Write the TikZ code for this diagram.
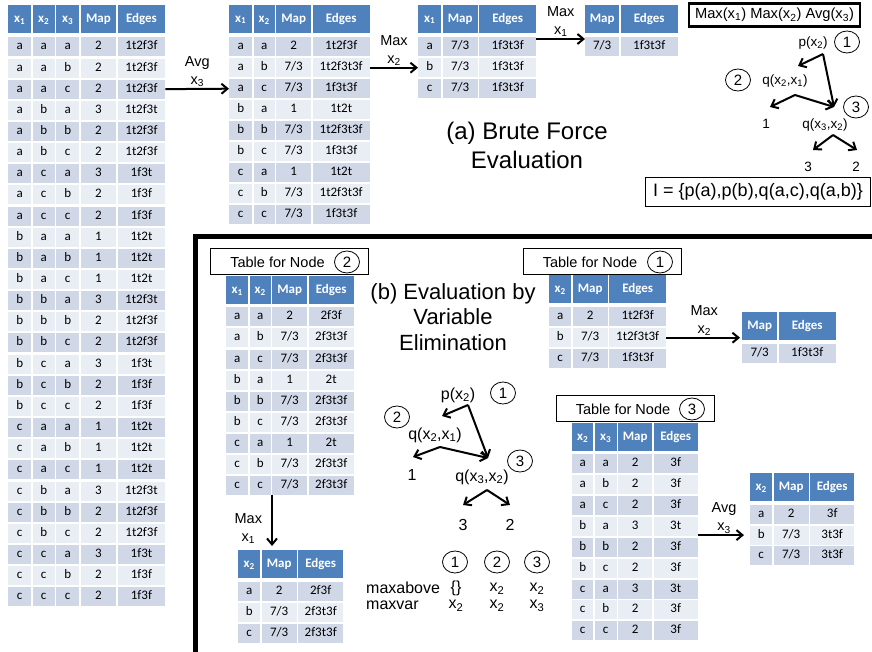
\documentclass[tikz,border=0pt]{standalone}
\usepackage{fontspec}
\setmainfont{Liberation Sans}
\newfontfamily\tabfont{Carlito}
\usetikzlibrary{matrix,shapes.geometric,arrows.meta}
\definecolor{hdrblue}{HTML}{4F81BD}
\definecolor{rowdark}{HTML}{D0D8E8}
\definecolor{rowlight}{HTML}{E9EDF4}
\newcommand\xv[1]{x\textsubscript{#1}}
\tikzstyle{every edge} = [draw,line width=2pt,-{Straight Barb[length=6pt,width=10pt]}]
\tikzstyle{cell} = [fill=rowlight,font=\tabfont\fontsize{13}{15}\selectfont,inner sep=0pt,text height=9pt,text depth=3pt,minimum height=19pt]
\tikzstyle{hdr} = [fill=hdrblue,text=white,font=\tabfont\bfseries\fontsize{13}{15}\selectfont,minimum height=28pt]
\tikzstyle{tbl} = [matrix of nodes,anchor=north west,inner sep=0pt,column sep=1.5pt,row sep=2pt,nodes={cell},every even row/.style={nodes={fill=rowdark}},row 1/.style={nodes={hdr}}]
\tikzstyle{wcol} = [nodes={minimum width=#1}]
\tikzstyle{lbl} = [font=\fontsize{14.5}{18}\selectfont,align=center,inner sep=1pt]
\tikzstyle{slbl} = [font=\fontsize{13.5}{16}\selectfont,inner sep=1pt]
\tikzstyle{tlbl} = [font=\fontsize{16}{18}\selectfont,inner sep=1pt]
\tikzstyle{num} = [draw,ellipse,minimum width=25pt,minimum height=22pt,inner sep=0pt,line width=0.8pt,font=\fontsize{15}{18}\selectfont]
\tikzstyle{tbox} = [draw,line width=0.9pt,minimum width=158pt,minimum height=26pt]

\begin{document}
\begin{tikzpicture}[x=1pt,y=-1pt]

\path[fill=white] (0,0) rectangle (872,652);
\useasboundingbox (0,0) rectangle (872,652);

% (a) brute force
\matrix (full) [tbl,row sep=2.15pt,column 1/.style={wcol=23pt},column 2/.style={wcol=22pt},column 3/.style={wcol=23pt},column 4/.style={wcol=35.5pt},column 5/.style={wcol=47.5pt}] at (8,5) {
\xv1 & \xv2 & \xv3 & Map & Edges \\[2pt]
a & a & a & 2 & 1t2f3f \\
a & a & b & 2 & 1t2f3f \\
a & a & c & 2 & 1t2f3f \\
a & b & a & 3 & 1t2f3t \\
a & b & b & 2 & 1t2f3f \\
a & b & c & 2 & 1t2f3f \\
a & c & a & 3 & 1f3t \\
a & c & b & 2 & 1f3f \\
a & c & c & 2 & 1f3f \\
b & a & a & 1 & 1t2t \\
b & a & b & 1 & 1t2t \\
b & a & c & 1 & 1t2t \\
b & b & a & 3 & 1t2f3t \\
b & b & b & 2 & 1t2f3f \\
b & b & c & 2 & 1t2f3f \\
b & c & a & 3 & 1f3t \\
b & c & b & 2 & 1f3f \\
b & c & c & 2 & 1f3f \\
c & a & a & 1 & 1t2t \\
c & a & b & 1 & 1t2t \\
c & a & c & 1 & 1t2t \\
c & b & a & 3 & 1t2f3t \\
c & b & b & 2 & 1t2f3f \\
c & b & c & 2 & 1t2f3f \\
c & c & a & 3 & 1f3t \\
c & c & b & 2 & 1f3f \\
c & c & c & 2 & 1f3f \\
};

\matrix (avgx3) [tbl,column 1/.style={wcol=23pt},column 2/.style={wcol=21pt},column 3/.style={wcol=35pt},column 4/.style={wcol=57pt}] at (229,5) {
\xv1 & \xv2 & Map & Edges \\[2pt]
a & a & 2 & 1t2f3f \\
a & b & 7/3 & 1t2f3t3f \\
a & c & 7/3 & 1f3t3f \\
b & a & 1 & 1t2t \\
b & b & 7/3 & 1t2f3t3f \\
b & c & 7/3 & 1f3t3f \\
c & a & 1 & 1t2t \\
c & b & 7/3 & 1t2f3t3f \\
c & c & 7/3 & 1f3t3f \\
};

\matrix (maxx2) [tbl,column 1/.style={wcol=23pt},column 2/.style={wcol=35pt},column 3/.style={wcol=57pt}] at (418,5) {
\xv1 & Map & Edges \\[2pt]
a & 7/3 & 1f3t3f \\
b & 7/3 & 1f3t3f \\
c & 7/3 & 1f3t3f \\
};

\matrix (maxx1) [tbl,column 1/.style={wcol=34pt},column 2/.style={wcol=57pt}] at (585,5) {
Map & Edges \\[2pt]
7/3 & 1f3t3f \\
};

\draw (full-4-5.east) edge node[lbl,above] {Avg\\\xv3} (avgx3-4-1.west);
\draw (avgx3-3-4.east) edge node[lbl,above] {Max\\\xv2} (maxx2-3-1.west);
\draw ([yshift=-2pt]maxx2-2-3.north east) edge node[lbl,above] {Max\\\xv1} ([yshift=-2pt]maxx1-2-1.north west);

\node[draw,line width=2.5pt,minimum width=171pt,minimum height=23pt,font=\fontsize{14.7}{17}\selectfont] (goal) at (774.5,15) {Max(\xv1) Max(\xv2) Avg(\xv3)};

% tree for (a)
\node[slbl] (pa) at (813,43) {p(\xv2)};
\node[num] (na1) at (847,42) {1};
\node[num] (na2) at (738,80) {2};
\node[slbl] (qa21) at (785,81) {q(\xv2,\xv1)};
\node[num] (na3) at (856,107) {3};
\node[slbl] (la1) at (766,124) {1};
\node[slbl] (qa32) at (825,125) {q(\xv3,\xv2)};
\node[slbl] (la3) at (808,167) {3};
\node[slbl] (la2) at (856,167) {2};
\coordinate (ta1) at (823,54);
\coordinate (ta2) at (798,66);
\coordinate (ta3) at (834,107);
\coordinate (ta4) at (795,95);
\coordinate (ta5) at (770,107);
\coordinate (ta6) at (833,135);
\coordinate (ta7) at (813,150);
\coordinate (ta8) at (857,150);
\draw (ta1) edge (ta2) edge (ta3);
\draw (ta4) edge (ta5) edge (ta3);
\draw (ta6) edge (ta7) edge (ta8);

\node[draw,line width=0.9pt,minimum width=225pt,minimum height=29pt,font=\fontsize{18}{20}\selectfont] (inst) at (758,192) {I = \{p(a),p(b),q(a,c),q(a,b)\}};

\node[align=center,font=\fontsize{24}{29}\selectfont] (ttla) at (527,145) {(a) Brute Force\\Evaluation};

% (b) variable elimination
\draw[line width=5pt] (195,652) -- (195,237) -- (872,237);

\node[align=center,font=\fontsize{22}{25.5}\selectfont] (ttlb) at (453,317) {(b) Evaluation by\\Variable\\Elimination};

\node[tbox] (box2) at (289,261) {};
\node[lbl] (txt2) at (277.5,262) {Table for Node};
\node[num] (nb2) at (347,262) {2};

\matrix (node2tab) [tbl,row sep=2.1pt,column 1/.style={wcol=22pt},column 2/.style={wcol=21pt},column 3/.style={wcol=35pt},column 4/.style={wcol=45pt}] at (226,276) {
\xv1 & \xv2 & Map & Edges \\[1pt]
a & a & 2 & 2f3f \\
a & b & 7/3 & 2f3t3f \\
a & c & 7/3 & 2f3t3f \\
b & a & 1 & 2t \\
b & b & 7/3 & 2f3t3f \\
b & c & 7/3 & 2f3t3f \\
c & a & 1 & 2t \\
c & b & 7/3 & 2f3t3f \\
c & c & 7/3 & 2f3t3f \\
};

\matrix (node2max) [tbl,column 1/.style={wcol=22pt},column 2/.style={wcol=35pt},column 3/.style={wcol=45pt}] at (238,550) {
\xv2 & Map & Edges \\[2pt]
a & 2 & 2f3f \\
b & 7/3 & 2f3t3f \\
c & 7/3 & 2f3t3f \\
};

\draw (node2tab-10-3.south west) edge[shorten >=4pt] node[lbl,left=8pt,pos=0.6] {Max\\\xv1} (node2tab-10-3.south west |- node2max.north);

\node[tbox] (box1) at (602.5,261) {};
\node[lbl] (txt1) at (590,262) {Table for Node};
\node[num] (nb1) at (660,262) {1};

\matrix (node1tab) [tbl,column 1/.style={wcol=22pt},column 2/.style={wcol=35pt},column 3/.style={wcol=57pt}] at (549,275) {
\xv2 & Map & Edges \\[2pt]
a & 2 & 1t2f3f \\
b & 7/3 & 1t2f3t3f \\
c & 7/3 & 1f3t3f \\
};

\matrix (node1max) [tbl,column 1/.style={wcol=35pt},column 2/.style={wcol=57pt}] at (742,312) {
Map & Edges \\[2pt]
7/3 & 1f3t3f \\
};

\draw (node1tab-3-3.east) edge[shorten >=2pt] node[lbl,above] {Max\\\xv2} (node1tab-3-3.east -| node1max.west);

\node[tbox] (box3) at (635.5,408.5) {};
\node[lbl] (txt3) at (623,409) {Table for Node};
\node[num] (nb3) at (692,409) {3};

\matrix (node3tab) [tbl,row sep=1.9pt,column 1/.style={wcol=21pt},column 2/.style={wcol=22pt},column 3/.style={wcol=34pt},column 4/.style={wcol=44pt}] at (572,423) {
\xv2 & \xv3 & Map & Edges \\[1pt]
a & a & 2 & 3f \\
a & b & 2 & 3f \\
a & c & 2 & 3f \\
b & a & 3 & 3t \\
b & b & 2 & 3f \\
b & c & 2 & 3f \\
c & a & 3 & 3t \\
c & b & 2 & 3f \\
c & c & 2 & 3f \\
};

\matrix (node3avg) [tbl,row sep=1.7pt,column 1/.style={wcol=22pt},column 2/.style={wcol=35pt},column 3/.style={wcol=44pt}] at (750,473) {
\xv2 & Map & Edges \\[2pt]
a & 2 & 3f \\
b & 7/3 & 3t3f \\
c & 7/3 & 3t3f \\
};

\draw (node3tab.east |- node3avg-3-1) edge[shorten >=6pt] node[lbl,above] {Avg\\\xv3} (node3avg-3-1.west);

% tree for (b)
\node[tlbl] (pb) at (458,395) {p(\xv2)};
\node[num] (nm1) at (503,393) {1};
\node[num] (nm2) at (397,417) {2};
\node[tlbl] (qb21) at (435,435) {q(\xv2,\xv1)};
\node[num] (nm3) at (520,461) {3};
\node[tlbl] (lb1) at (412,475) {1};
\node[tlbl] (qb32) at (482,477) {q(\xv3,\xv2)};
\node[tlbl] (lb3) at (463,525) {3};
\node[tlbl] (lb2) at (510,525) {2};
\coordinate (tb1) at (468,405);
\coordinate (tb2) at (442,416);
\coordinate (tb3) at (488,458);
\coordinate (tb4) at (440,447);
\coordinate (tb5) at (413,457);
\coordinate (tb6) at (487,490);
\coordinate (tb7) at (463,505);
\coordinate (tb8) at (510,505);
\draw (tb1) edge (tb2) edge (tb3);
\draw (tb4) edge (tb5) edge (tb3);
\draw (tb6) edge (tb7) edge (tb8);

% maxabove / maxvar
\node[num] (mc1) at (455,562) {1};
\node[num] (mc2) at (497,562) {2};
\node[num] (mc3) at (537,562) {3};
\node[tlbl,anchor=west] (mabove) at (365,588) {maxabove};
\node[tlbl,anchor=west] (mvar) at (365,605) {maxvar};
\node[tlbl] (ma1) at (456,588) {\{\}};
\node[tlbl] (ma2) at (497,589) {\xv2};
\node[tlbl] (ma3) at (537,589) {\xv2};
\node[tlbl] (mv1) at (456,606) {\xv2};
\node[tlbl] (mv2) at (497,606) {\xv2};
\node[tlbl] (mv3) at (537,606) {\xv3};

\end{tikzpicture}
\end{document}
